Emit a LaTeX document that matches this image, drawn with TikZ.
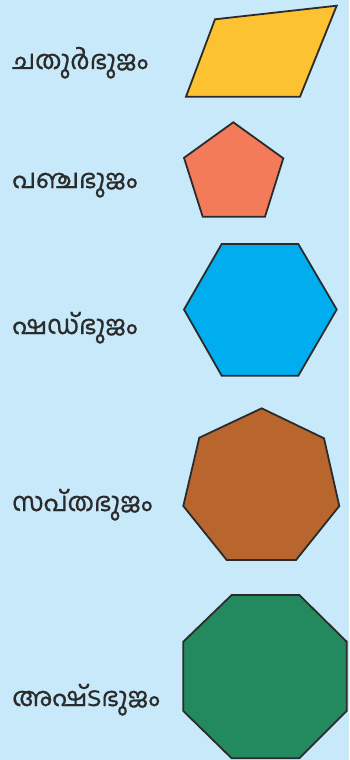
\documentclass[tikz,border=0pt]{standalone}
\usepackage{fontspec}
\newfontfamily\mlfont[Script=Malayalam,FakeBold=0.6]{Hind Kochi}
\definecolor{bg}{HTML}{C7E9F9}
\definecolor{cyel}{HTML}{FDC232}
\definecolor{csal}{HTML}{F47B59}
\definecolor{ccya}{HTML}{00AEEF}
\definecolor{cbro}{HTML}{B8652E}
\definecolor{cgre}{HTML}{228A5E}
\definecolor{ink}{HTML}{2B2B2B}
\begin{document}
\begin{tikzpicture}[x=1pt,y=-1pt,
  lbl/.style={anchor=base west,inner sep=0pt,text=ink,font=\mlfont\fontsize{26}{30}\selectfont},
  poly/.style={draw=ink,line width=1.8pt,line join=miter}]
\fill[bg] (0,0) rectangle (349,760);
\useasboundingbox (0,0) rectangle (349,760);
% labels
\node[lbl] (l4) at (12,69) {ചതുർഭുജം};
\node[lbl] (l5) at (12,188) {പഞ്ചഭുജം};
\node[lbl] (l6) at (12,334) {ഷഡ്ഭുജം};
\node[lbl] (l7) at (12,511) {സപ്തഭുജം};
\node[lbl] (l8) at (12,706) {അഷ്‌ടഭുജം};
% shapes
\filldraw[poly,fill=cyel] (215,19.3) -- (336.7,5.7) -- (300,96.7) -- (186,96.7) -- cycle;
\filldraw[poly,fill=csal] (233.3,122.3) -- (283.3,158.3) -- (265,216.7) -- (202.7,216.7) -- (184,157.8) -- cycle;
\filldraw[poly,fill=ccya] (221.7,244) -- (298.3,244) -- (336.7,309.5) -- (298.3,375.7) -- (221.7,375.7) -- (184,309.5) -- cycle;
\filldraw[poly,fill=cbro] (261.7,408.3) -- (324,438.3) -- (339.3,506) -- (296,560) -- (226.7,560) -- (183.3,506) -- (199.3,437.7) -- cycle;
\filldraw[poly,fill=cgre] (231.7,595) -- (299.3,595) -- (346.7,641.7) -- (346.7,711) -- (299.3,758.3) -- (231.7,758.3) -- (183.3,711) -- (183.3,641.7) -- cycle;
\end{tikzpicture}
\end{document}
